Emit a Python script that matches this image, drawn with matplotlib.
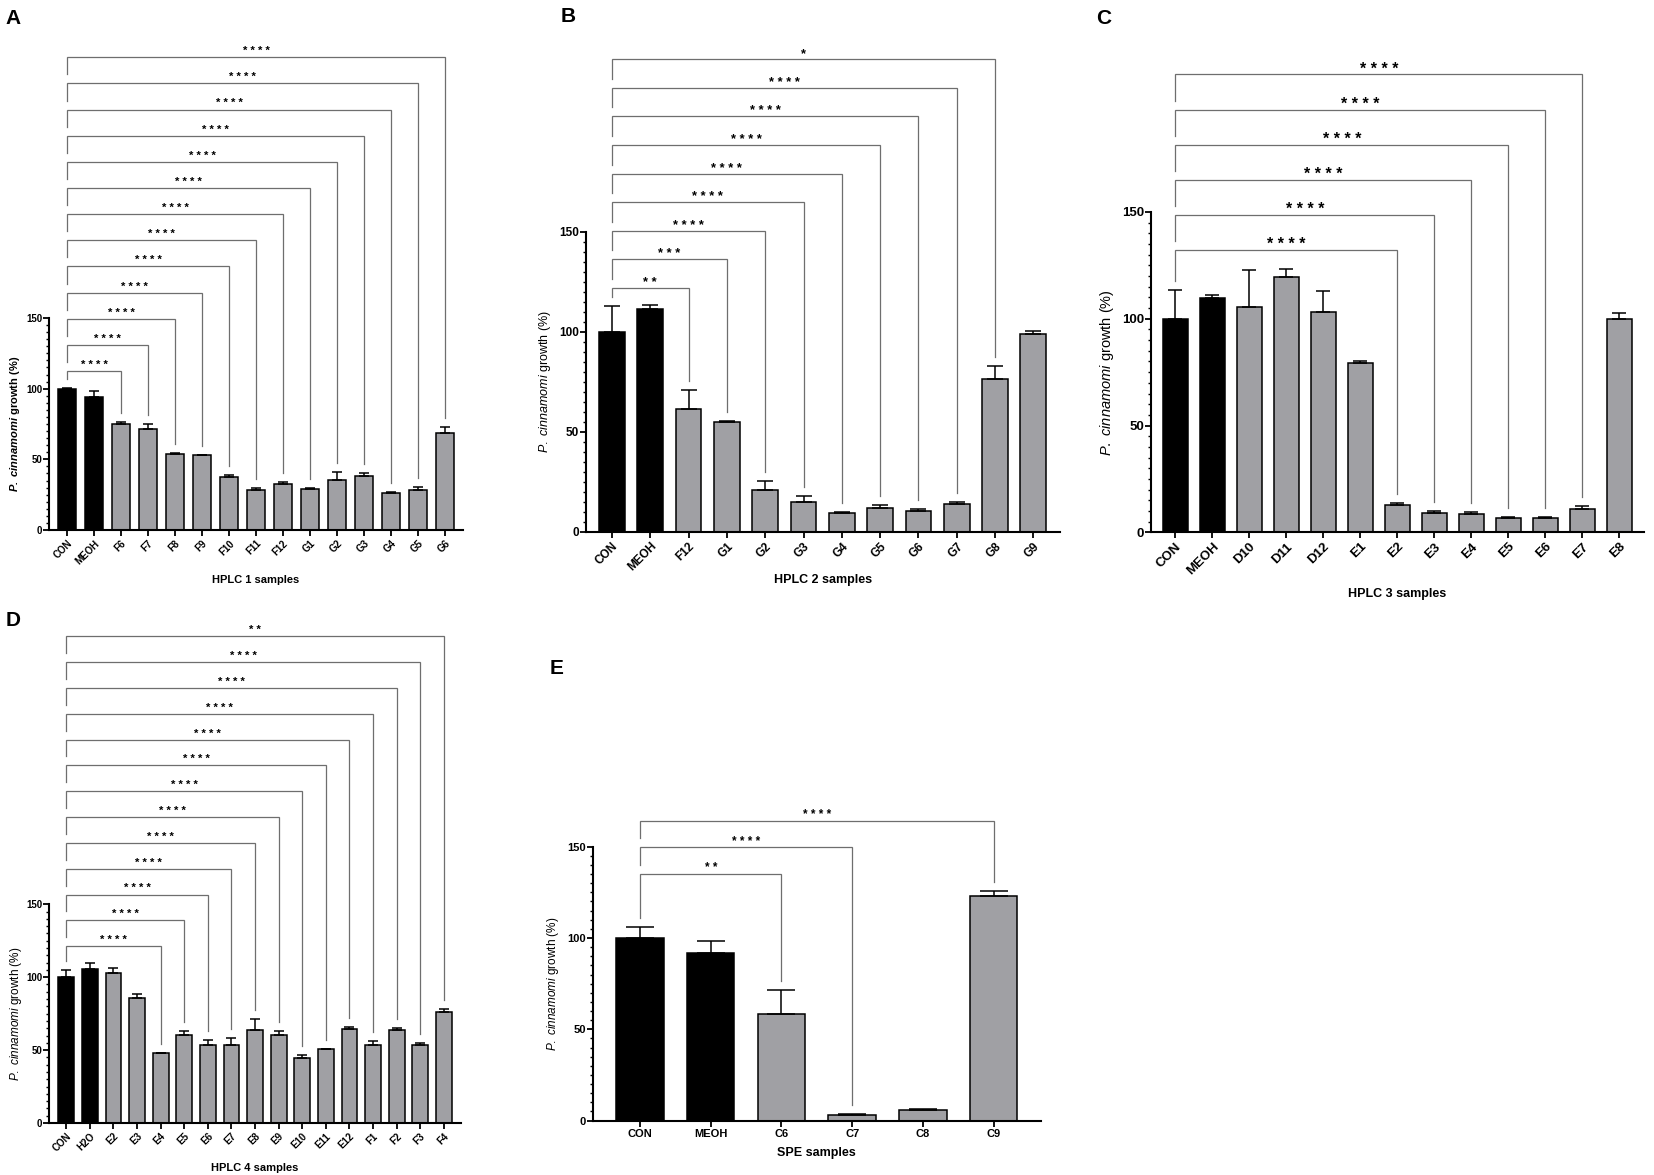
import numpy as np
import matplotlib.pyplot as plt
from matplotlib.ticker import MultipleLocator

plt.rcParams['font.family'] = ['Liberation Sans', 'DejaVu Sans']
plt.rcParams['mathtext.fontset'] = 'custom'
plt.rcParams['mathtext.rm'] = 'Liberation Sans'
plt.rcParams['mathtext.it'] = 'Liberation Sans:italic'
plt.rcParams['mathtext.bf'] = 'Liberation Sans:bold'
plt.rcParams['mathtext.bfit'] = 'Liberation Sans:italic:bold'

W, H = 1654, 1175
BLACK = '#000000'
GREY = '#a0a0a4'
LINE = '#6e6e6e'

# ---- data (mean growth %, upper error) ----
a_labels = ['CON', 'MEOH', 'F6', 'F7', 'F8', 'F9', 'F10', 'F11', 'F12', 'G1', 'G2', 'G3', 'G4', 'G5', 'G6']
a_means = [100, 94.2, 75.3, 71.8, 53.7, 53.0, 37.2, 28.3, 32.3, 28.7, 35.1, 38.4, 25.9, 28.0, 68.3]
a_errs = [0.5, 4.5, 1.2, 3.1, 0.9, 0.4, 1.4, 1.1, 1.4, 0.7, 5.6, 1.9, 0.7, 2.1, 4.5]
a_targets = ['F6', 'F7', 'F8', 'F9', 'F10', 'F11', 'F12', 'G1', 'G2', 'G3', 'G4', 'G5', 'G6']
a_stars = ['****'] * 13

b_labels = ['CON', 'MEOH', 'F12', 'G1', 'G2', 'G3', 'G4', 'G5', 'G6', 'G7', 'G8', 'G9']
b_means = [100, 111.3, 61.5, 54.8, 21.2, 15.2, 9.5, 11.8, 10.5, 14.0, 76.7, 99.0]
b_errs = [13.0, 2.0, 9.5, 0.5, 4.3, 2.6, 0.3, 1.5, 0.8, 1.0, 6.5, 1.5]
b_targets = ['F12', 'G1', 'G2', 'G3', 'G4', 'G5', 'G6', 'G7', 'G8']
b_stars = ['**', '***', '****', '****', '****', '****', '****', '****', '*']

c_labels = ['CON', 'MEOH', 'D10', 'D11', 'D12', 'E1', 'E2', 'E3', 'E4', 'E5', 'E6', 'E7', 'E8']
c_means = [100, 109.5, 105.5, 119.6, 103.0, 79.4, 12.6, 9.2, 8.4, 6.7, 6.7, 10.9, 100.0]
c_errs = [13.7, 1.7, 17.5, 3.9, 10.0, 0.6, 1.3, 0.6, 1.3, 0.6, 0.3, 1.5, 2.8]
c_targets = ['E2', 'E3', 'E4', 'E5', 'E6', 'E7']
c_stars = ['****'] * 6

d_labels = ['CON', 'H2O', 'E2', 'E3', 'E4', 'E5', 'E6', 'E7', 'E8', 'E9', 'E10', 'E11', 'E12', 'F1', 'F2', 'F3', 'F4']
d_means = [100, 105.3, 103.0, 85.6, 48.0, 60.6, 53.8, 53.3, 63.6, 60.6, 44.4, 50.6, 64.5, 53.8, 63.6, 53.3, 76.2]
d_errs = [5.0, 4.7, 3.2, 2.7, 0.3, 2.4, 3.2, 5.3, 7.6, 2.8, 2.1, 0.4, 1.5, 2.7, 1.6, 1.7, 2.3]
d_targets = ['E4', 'E5', 'E6', 'E7', 'E8', 'E9', 'E10', 'E11', 'E12', 'F1', 'F2', 'F3', 'F4']
d_stars = ['****'] * 12 + ['**']

e_labels = ['CON', 'MEOH', 'C6', 'C7', 'C8', 'C9']
e_means = [100, 91.6, 58.2, 3.2, 6.0, 123.0]
e_errs = [5.8, 6.6, 13.3, 0.3, 0.5, 3.0]
e_targets = ['C6', 'C7', 'C9']
e_stars = ['**', '****', '****']

fig = plt.figure(figsize=(W / 100, H / 100), dpi=100)


def panel(left, y0, y150, spacing, xpad, labels, means, errs, targets, stars,
          level0, step, xlab, tick_fs, star_fs, ylab_x, xlab_y, rot=45,
          ylab_bold=False, ylab_fs=8.5, xlab_fs=9):
    n = len(labels)
    xlo, xhi = -xpad, n - 1 + xpad
    width = (xhi - xlo) * spacing
    ax = fig.add_axes([left / W, (H - y0) / H, width / W, (y0 - y150) / H])
    ax.set_xlim(xlo, xhi)
    ax.set_ylim(0, 150)
    ppu = (y0 - y150) / 150.0
    gap = 9 / ppu

    x = np.arange(n)
    colors = [BLACK, BLACK] + [GREY] * (n - 2)
    bw = 0.67
    cap = bw * spacing * 0.3 / 1.389
    ax.errorbar(x, means, yerr=[np.zeros(n), errs], fmt='none', ecolor='black',
                elinewidth=1.1, capsize=cap, capthick=1.1, zorder=3)
    ax.bar(x, means, width=bw, color=colors, edgecolor='black', linewidth=1.1, zorder=2)

    for s in ['top', 'right']:
        ax.spines[s].set_visible(False)
    ax.spines['left'].set_bounds(0, 150)
    ax.spines['left'].set_linewidth(1.5)
    ax.spines['bottom'].set_linewidth(1.5)
    ax.yaxis.set_major_locator(MultipleLocator(50))
    ax.yaxis.set_minor_locator(MultipleLocator(5))
    ax.tick_params(axis='y', which='major', length=4, width=1.3, labelsize=tick_fs, pad=1)
    ax.tick_params(axis='y', which='minor', length=2.2, width=1.0)
    ax.tick_params(axis='x', length=4, width=1.3, labelsize=tick_fs, pad=2)
    for t in ax.get_yticklabels():
        t.set_fontweight('bold')
    ax.set_xticks(x)
    if rot:
        ax.set_xticklabels(labels, rotation=rot, ha='right', rotation_mode='anchor', fontweight='bold')
    else:
        ax.set_xticklabels(labels, fontweight='bold')

    if ylab_bold:
        ylab = r'$\mathbfit{P.\ cinnamomi}$ growth (%)'
    else:
        ylab = r'$\mathit{P.\ cinnamomi}$ growth (%)'
    ax.set_ylabel(ylab, fontsize=ylab_fs, fontweight='bold' if ylab_bold else 'normal')
    ax.yaxis.set_label_coords((ylab_x - left) / width, 0.5)
    ax.yaxis.label.set_va('center')
    ax.set_xlabel(xlab, fontsize=xlab_fs, fontweight='bold')
    ax.xaxis.set_label_coords(0.5, -(xlab_y - y0) / (y0 - y150))
    ax.xaxis.label.set_va('center')

    # significance brackets against CON
    prev = means[0] + errs[0]
    star_dy = 9.5 - 0.58 * star_fs * 1.389
    for k, (tg, st) in enumerate(zip(targets, stars)):
        j = labels.index(tg)
        yb = level0 + k * step
        ax.plot([0, 0, j, j], [prev + gap, yb, yb, means[j] + errs[j] + gap],
                color=LINE, lw=0.9, clip_on=False, zorder=1, solid_joinstyle='miter')
        ax.annotate(' '.join(st), (j / 2, yb), xytext=(0, star_dy * 0.72),
                    textcoords='offset points', ha='center', va='baseline',
                    fontsize=star_fs, fontweight='bold', annotation_clip=False)
        prev = yb
    return ax


panel(49, 530, 318, 27.0, 0.667, a_labels, a_means, a_errs, a_targets, a_stars,
      112.5, 18.5, 'HPLC 1 samples', 7, 8, 15, 580, ylab_bold=True, ylab_fs=8, xlab_fs=8)
panel(585.7, 532, 232, 38.3, 0.687, b_labels, b_means, b_errs, b_targets, b_stars,
      122, 14.3, 'HPLC 2 samples', 8.5, 9.3, 545, 580, ylab_fs=9)
panel(1151, 532.3, 212, 37.0, 0.657, c_labels, c_means, c_errs, c_targets, c_stars,
      132.4, 16.4, 'HPLC 3 samples', 9.5, 11.5, 1107, 594, ylab_fs=10.5)
panel(49, 1123, 904.3, 23.6, 0.73, d_labels, d_means, d_errs, d_targets, d_stars,
      121.3, 17.7, 'HPLC 4 samples', 7, 8, 16, 1168, ylab_fs=8.5, xlab_fs=8)
panel(592.7, 1120.6, 846.7, 70.7, 0.67, e_labels, e_means, e_errs, e_targets, e_stars,
      135.1, 14.5, 'SPE samples', 8, 8.5, 553, 1153, rot=0, ylab_fs=8.5)

for lab, (px, py) in zip('ABCDE', [(13, 19), (568, 17), (1104, 19), (13, 620), (557, 668)]):
    fig.text(px / W, 1 - py / H, lab, fontsize=15, fontweight='bold', ha='center', va='center')

fig.savefig('out.png', dpi=100)
